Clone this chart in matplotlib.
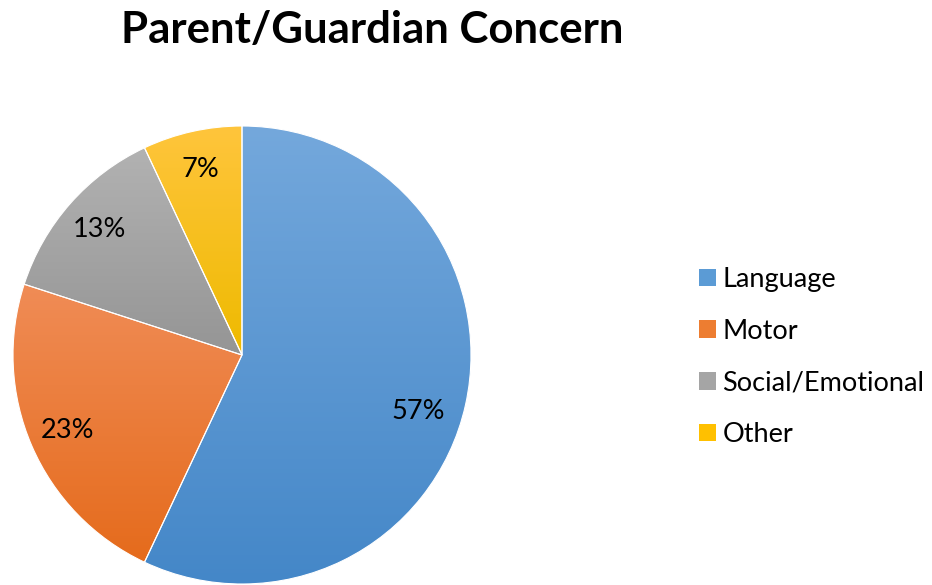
import numpy as np
import matplotlib
matplotlib.use("Agg")
import matplotlib.pyplot as plt
from matplotlib.colors import LinearSegmentedColormap
from matplotlib.patches import Patch

# Concern categories and their shares (percent)
categories = ["Language", "Motor", "Social/Emotional", "Other"]
shares = [57, 23, 13, 7]

# light (top) -> dark (bottom) fill for each slice
top_colors = ["#74A8DC", "#F08C56", "#B2B2B2", "#FFC53C"]
bottom_colors = ["#4487C8", "#E56B1C", "#959595", "#EEBA00"]
mid_colors = ["#5B9BD5", "#ED7D31", "#A5A5A5", "#FFC000"]

plt.rcParams['font.family'] = ['Lato', 'DejaVu Sans']

W, H = 932, 585
fig = plt.figure(figsize=(W / 100, H / 100), dpi=100)

# pie centre (242, 355) px, radius 229 px
cx, cy, r = 242, 355, 229
ax = fig.add_axes([(cx - r) / W, (H - cy - r) / H, 2 * r / W, 2 * r / H])

wedges, texts, autotexts = ax.pie(
    shares, startangle=90, counterclock=False, radius=1,
    autopct="%d%%", pctdistance=0.83,
    wedgeprops=dict(linewidth=0.8, edgecolor="white"),
    textprops=dict(fontsize=19.5, color="black"),
)

# gradient fill clipped to every wedge
grad = np.linspace(0, 1, 256).reshape(-1, 1)
for w, c0, c1 in zip(wedges, top_colors, bottom_colors):
    bb = w.get_path().get_extents(w.get_patch_transform())
    cmap = LinearSegmentedColormap.from_list("g", [c0, c1])
    im = ax.imshow(grad, cmap=cmap, aspect="auto", origin="upper",
                   extent=[bb.x0, bb.x1, bb.y0, bb.y1], zorder=0.5)
    im.set_clip_path(w)
    w.set_facecolor("none")
    w.set_zorder(1)

for t in autotexts:
    t.set_zorder(3)

# the big slice's label sits a little lower and further in
x0, y0 = autotexts[0].get_position()
autotexts[0].set_position((x0 - 0.04, y0 - 0.065))

ax.set_xlim(-1, 1)
ax.set_ylim(-1, 1)
ax.set_aspect("equal")
ax.axis("off")

fig.text(372 / W, 1 - 30 / H, "Parent/Guardian Concern", ha="center", va="center",
         fontsize=31.5, fontweight="bold")

handles = [Patch(facecolor=c, edgecolor="none") for c in mid_colors]
fig.legend(handles, categories, loc="center left", bbox_to_anchor=(699 / W, 1 - 357 / H),
           frameon=False, fontsize=19.5, handlelength=0.62, handleheight=0.62,
           handletextpad=0.25, labelspacing=0.98, borderaxespad=0, borderpad=0)

fig.savefig("out.png", dpi=100, facecolor="white")
